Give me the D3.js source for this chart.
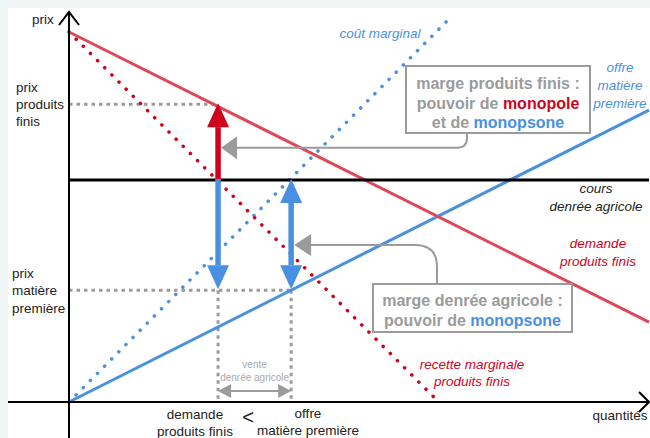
<!DOCTYPE html>
<html><head><meta charset="utf-8">
<script src="https://cdn.jsdelivr.net/npm/d3@7"></script>
<style>
html,body{margin:0;padding:0;background:#f0f5f6;}
svg{display:block;}
text{font-family:"Liberation Sans",Arial,sans-serif;}
</style></head>
<body>
<script>
// ---- data (economic units) ----
const demandLine = [[0, 10], [10, 2.16]];          // demande produits finis
const mrLine = [[0, 10], [6.28, 0.15]];             // recette marginale produits finis
const mcLine = [[0, 0], [6.62, 10.46]];             // coût marginal
const supplyLine = [[0, 0], [10, 7.89]];            // offre matière première
const coursPrice = 6.0;                              // cours denrée agricole
const qDemande = 2.57;                               // demande produits finis (quantity)
const qOffre = 3.83;                                 // offre matière première (quantity)
const prixProduitsFinis = 8.05;
const prixMatierePremiere = 3.02;
const arrow1Price = 6.87;   // gray annotation arrow 1 target level
const arrow2Price = 4.24;   // gray annotation arrow 2 target level

const W = 650, H = 438;
const RED = "#d0021b", RED_L = "#dc4a5a", BLUE = "#4a90e2", GRAY = "#9b9b9b";
const x = d3.scaleLinear().domain([0, 10]).range([69, 649]);
const y = d3.scaleLinear().domain([0, 10]).range([402, 32]);

const svg = d3.select("body").append("svg").attr("width", W).attr("height", H);
svg.append("rect").attr("x", 8).attr("y", 8).attr("width", W - 8).attr("height", H - 8).attr("fill", "#fff");

const line = d3.line().x(d => x(d[0])).y(d => y(d[1]));

// gray guide dotted lines
const guides = [
  [[0, prixProduitsFinis], [qDemande, prixProduitsFinis]],
  [[0, prixMatierePremiere], [qOffre, prixMatierePremiere]],
  [[qDemande, prixMatierePremiere], [qDemande, 0]],
  [[qOffre, prixMatierePremiere], [qOffre, 0]]
];
guides.forEach(g => svg.append("path").attr("d", line(g)).attr("fill", "none")
  .attr("stroke", GRAY).attr("stroke-width", 3).attr("stroke-dasharray", "3.5 4"));

// curves
svg.append("path").attr("d", line(mcLine)).attr("fill", "none").attr("stroke", BLUE)
  .attr("stroke-width", 3.5).attr("stroke-linecap", "round").attr("stroke-dasharray", "0.1 10");
svg.append("path").attr("d", line(mrLine)).attr("fill", "none").attr("stroke", RED)
  .attr("stroke-width", 3.5).attr("stroke-linecap", "round").attr("stroke-dasharray", "0.1 10");
svg.append("path").attr("d", line(supplyLine)).attr("fill", "none").attr("stroke", BLUE).attr("stroke-width", 3);
svg.append("path").attr("d", line(demandLine)).attr("fill", "none").attr("stroke", RED_L).attr("stroke-width", 3);
svg.append("path").attr("d", line([[0, coursPrice], [10, coursPrice]])).attr("fill", "none").attr("stroke", "#000").attr("stroke-width", 3);

// axes
svg.append("line").attr("x1", x(0)).attr("x2", x(0)).attr("y1", 12).attr("y2", H).attr("stroke", "#000").attr("stroke-width", 2);
svg.append("line").attr("x1", 8).attr("x2", 649).attr("y1", y(0)).attr("y2", y(0)).attr("stroke", "#000").attr("stroke-width", 2);
svg.append("path").attr("d", `M${x(0)-10},25 L${x(0)},12 L${x(0)+10},25`).attr("fill", "none").attr("stroke", "#000").attr("stroke-width", 2);
svg.append("path").attr("d", `M639,${y(0)-10} L649,${y(0)} L639,${y(0)+10}`).attr("fill", "none").attr("stroke", "#000").attr("stroke-width", 2);

// vertical arrows
function vArrow(xp, y0, y1, color, both) {
  const hl = 24, hw = 11, sw = 5.5;
  const dir = y1 > y0 ? 1 : -1;
  const s0 = both ? y0 + dir * hl : y0;
  svg.append("line").attr("x1", xp).attr("x2", xp).attr("y1", s0).attr("y2", y1 - dir * hl)
    .attr("stroke", color).attr("stroke-width", sw);
  svg.append("path").attr("d", `M${xp},${y1} L${xp-hw},${y1-dir*hl} L${xp+hw},${y1-dir*hl}Z`).attr("fill", color);
  if (both) svg.append("path").attr("d", `M${xp},${y0} L${xp-hw},${y0+dir*hl} L${xp+hw},${y0+dir*hl}Z`).attr("fill", color);
}
vArrow(x(qDemande), y(coursPrice) + 1, y(prixProduitsFinis) - 1, RED, false);
vArrow(x(qDemande), y(coursPrice) - 1, y(prixMatierePremiere) - 1, BLUE, false);
vArrow(x(qOffre), y(coursPrice) - 1, y(prixMatierePremiere) - 1, BLUE, true);

// gray annotation connectors
function leftHead(tx, ty, len, hw) {
  svg.append("path").attr("d", `M${tx},${ty} L${tx+len},${ty-hw} L${tx+len},${ty+hw}Z`).attr("fill", GRAY);
}
const a1y = y(arrow1Price), a1x = x(qDemande) + 3;
svg.append("path").attr("d", `M467,133 V${a1y-10} Q467,${a1y} 457,${a1y} H${a1x+15}`)
  .attr("fill", "none").attr("stroke", GRAY).attr("stroke-width", 2);
leftHead(a1x, a1y, 16, 11.5);
const a2y = y(arrow2Price), a2x = x(qOffre) + 3;
svg.append("path").attr("d", `M437,284 V${a2y+22} Q437,${a2y} 415,${a2y} H${a2x+16}`)
  .attr("fill", "none").attr("stroke", GRAY).attr("stroke-width", 2);
leftHead(a2x, a2y, 17, 11);

// boxes
function box(x0, y0, w, h, lines, lh, cy0) {
  svg.append("rect").attr("x", x0).attr("y", y0).attr("width", w).attr("height", h)
    .attr("fill", "#fff").attr("stroke", GRAY).attr("stroke-width", 2);
  lines.forEach((parts, i) => {
    const t = svg.append("text").attr("x", x0 + w / 2).attr("y", cy0 + i * lh)
      .attr("text-anchor", "middle").attr("dominant-baseline", "central")
      .attr("font-weight", "bold").attr("font-size", 16);
    parts.forEach(p => t.append("tspan").attr("fill", p[1]).text(p[0]));
  });
}
box(406, 66, 184, 67, [
  [["marge produits finis :", GRAY]],
  [["pouvoir de ", GRAY], ["monopole", RED]],
  [["et de ", GRAY], ["monopsone", BLUE]]
], 19.5, 83);
box(373, 284, 199, 48, [
  [["marge denrée agricole :", GRAY]],
  [["pouvoir de ", GRAY], ["monopsone", BLUE]]
], 20, 300);

// gray double arrow (vente denrée agricole)
const vy = 391;
svg.append("line").attr("x1", x(qDemande) + 12).attr("x2", x(qOffre) - 12).attr("y1", vy).attr("y2", vy)
  .attr("stroke", GRAY).attr("stroke-width", 2);
svg.append("path").attr("d", `M${x(qDemande)},${vy} L${x(qDemande)+13},${vy-7} L${x(qDemande)+13},${vy+7}Z`).attr("fill", GRAY);
svg.append("path").attr("d", `M${x(qOffre)},${vy} L${x(qOffre)-13},${vy-7} L${x(qOffre)-13},${vy+7}Z`).attr("fill", GRAY);

// text labels
function label(lines, xp, y0, lh, opts) {
  const o = Object.assign({size: 13.5, color: "#222", anchor: "start", style: "normal"}, opts);
  lines.forEach((s, i) => svg.append("text").attr("x", xp).attr("y", y0 + i * lh)
    .attr("dominant-baseline", "central").attr("text-anchor", o.anchor)
    .attr("font-size", o.size).attr("fill", o.color).attr("font-style", o.style).text(s));
}
label(["prix"], 32, 19, 0, {});
label(["prix", "produits", "finis"], 16, 87, 17, {});
label(["prix", "matière", "première"], 12, 273, 17.5, {});
label(["coût marginal"], 380, 33, 0, {anchor: "middle", color: BLUE, style: "italic"});
label(["offre", "matière", "première"], 620, 67, 18, {anchor: "middle", color: BLUE, style: "italic"});
label(["cours", "denrée agricole"], 596, 188, 18, {anchor: "middle", color: "#222", style: "italic"});
label(["demande", "produits finis"], 598, 243, 18, {anchor: "middle", color: RED, style: "italic"});
label(["recette marginale", "produits finis"], 472, 364, 17, {anchor: "middle", color: RED, style: "italic"});
label(["vente", "denrée agricole"], (x(qDemande) + x(qOffre)) / 2, 364, 13, {anchor: "middle", color: "#aaa", size: 10});
label(["demande", "produits finis"], 195, 414, 17, {anchor: "middle"});
label(["offre", "matière première"], 308, 413, 17, {anchor: "middle"});
label(["<"], 248, 417, 0, {anchor: "middle", size: 20});
label(["quantités"], 620, 415, 0, {anchor: "middle"});
</script>
</body></html>
